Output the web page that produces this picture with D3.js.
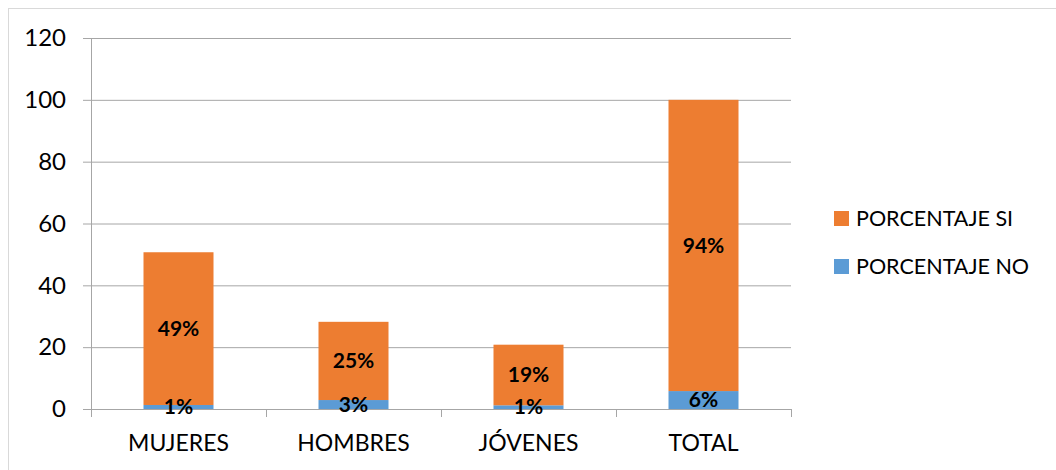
<!DOCTYPE html>
<html>
<head>
<meta charset="utf-8">
<script src="https://cdn.jsdelivr.net/npm/d3@7"></script>
<style>
  body { margin: 0; background: #fff; }
  svg { display: block; font-family: Lato, "Open Sans", sans-serif; }
</style>
</head>
<body>
<div id="chart"></div>
<script>
// data
var categories = ["MUJERES", "HOMBRES", "JÓVENES", "TOTAL"];
var porcentajeNo = [1.3, 2.9, 1.2, 5.8];
var porcentajeSi = [49.4, 25.3, 19.6, 94.2];
var labelsNo = ["1%", "3%", "1%", "6%"];
var labelsSi = ["49%", "25%", "19%", "94%"];
var yTicks = [0, 20, 40, 60, 80, 100, 120];
var seriesNames = ["PORCENTAJE SI", "PORCENTAJE NO"];
var colors = { si: "#ED7D31", no: "#5B9BD5" };

var width = 1056, height = 470;
var margin = { top: 38, right: 265, bottom: 61, left: 91 };
var w = width - margin.left - margin.right,
    h = height - margin.top - margin.bottom;

var svg = d3.select("#chart")
    .append("svg")
    .attr("width", width)
    .attr("height", height);

// chart frame (only top / left edges visible)
svg.append("rect")
    .attr("x", 8.5).attr("y", 8.5)
    .attr("width", width + 20).attr("height", height + 20)
    .attr("fill", "none")
    .attr("stroke", "#d9d9d9");

var g = svg.append("g")
    .attr("transform", "translate(" + margin.left + "," + margin.top + ")");

var x = d3.scaleBand()
    .domain(categories)
    .range([0, w]);

var y = d3.scaleLinear()
    .domain([0, 120])
    .range([h, 0]);

// gridlines + y axis
var yAxis = g.append("g")
    .call(d3.axisLeft(y).tickValues(yTicks).tickSize(8).tickPadding(8));
yAxis.select(".domain").remove();
yAxis.selectAll(".tick line")
    .attr("x2", w)
    .attr("x1", -8)
    .attr("stroke", "#a6a6a6");
yAxis.selectAll(".tick text")
    .attr("x", -25)
    .style("font-size", "24px")
    .style("font-family", "Lato, sans-serif")
    .attr("fill", "#000");

// y axis line
g.append("line")
    .attr("x1", 0.5).attr("x2", 0.5)
    .attr("y1", 0).attr("y2", h + 8)
    .attr("stroke", "#a6a6a6");

// category tick marks at band edges
var edges = categories.map(function (c) { return x(c); }).concat([w]);
g.selectAll(".ctick")
    .data(edges.slice(1))
    .enter()
    .append("line")
    .attr("x1", function (d) { return Math.round(d) + 0.5; })
    .attr("x2", function (d) { return Math.round(d) + 0.5; })
    .attr("y1", h)
    .attr("y2", h + 8)
    .attr("stroke", "#a6a6a6");

// category labels
g.selectAll(".clabel")
    .data(categories)
    .enter()
    .append("text")
    .attr("x", function (d) { return x(d) + x.bandwidth() / 2; })
    .attr("y", h + 42)
    .attr("text-anchor", "middle")
    .style("font-size", "23px")
    .text(function (d) { return d; });

var barW = x.bandwidth() * 0.4;

// NO segment (bottom)
g.selectAll(".barNo")
    .data(categories)
    .enter()
    .append("rect")
    .attr("x", function (d) { return x(d) + (x.bandwidth() - barW) / 2; })
    .attr("width", barW)
    .attr("y", function (d, i) { return y(porcentajeNo[i]); })
    .attr("height", function (d, i) { return y(0) - y(porcentajeNo[i]); })
    .attr("fill", colors.no);

// SI segment (stacked on top)
g.selectAll(".barSi")
    .data(categories)
    .enter()
    .append("rect")
    .attr("x", function (d) { return x(d) + (x.bandwidth() - barW) / 2; })
    .attr("width", barW)
    .attr("y", function (d, i) { return y(porcentajeNo[i] + porcentajeSi[i]); })
    .attr("height", function (d, i) { return y(porcentajeNo[i]) - y(porcentajeNo[i] + porcentajeSi[i]); })
    .attr("fill", colors.si);

// value labels
g.selectAll(".lblSi")
    .data(categories)
    .enter()
    .append("text")
    .attr("x", function (d) { return x(d) + x.bandwidth() / 2; })
    .attr("y", function (d, i) { return y(porcentajeNo[i] + porcentajeSi[i] / 2); })
    .attr("dy", "0.35em")
    .attr("text-anchor", "middle")
    .style("font-size", "21px")
    .style("font-weight", "bold")
    .text(function (d, i) { return labelsSi[i]; });

g.selectAll(".lblNo")
    .data(categories)
    .enter()
    .append("text")
    .attr("x", function (d) { return x(d) + x.bandwidth() / 2; })
    .attr("y", function (d, i) { return y(porcentajeNo[i] / 2); })
    .attr("dy", "0.35em")
    .attr("text-anchor", "middle")
    .style("font-size", "21px")
    .style("font-weight", "bold")
    .text(function (d, i) { return labelsNo[i]; });

// legend
var legend = svg.append("g")
    .attr("transform", "translate(834,211)");
var legItems = legend.selectAll("g")
    .data(seriesNames)
    .enter()
    .append("g")
    .attr("transform", function (d, i) { return "translate(0," + (i * 48) + ")"; });
legItems.append("rect")
    .attr("width", 15)
    .attr("height", 15)
    .attr("fill", function (d, i) { return i == 0 ? colors.si : colors.no; });
legItems.append("text")
    .attr("x", 22)
    .attr("y", 7.5)
    .attr("dy", "0.36em")
    .style("font-size", "21.5px")
    .text(function (d) { return d; });
</script>
</body>
</html>
